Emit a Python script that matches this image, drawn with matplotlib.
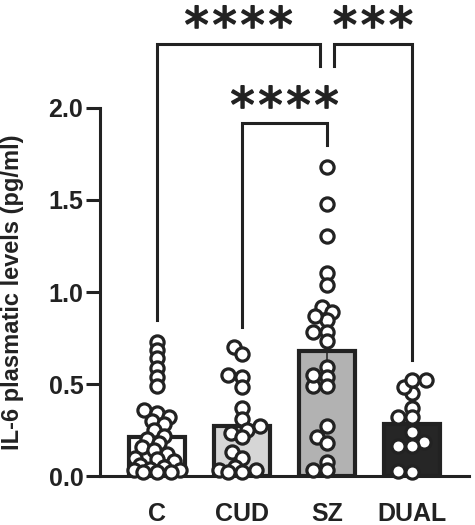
import numpy as np
import matplotlib
matplotlib.use("Agg")
import matplotlib.pyplot as plt
import matplotlib.patheffects as pe
from matplotlib.textpath import TextPath
from matplotlib.font_manager import FontProperties

groups = ["C", "CUD", "SZ", "DUAL"]
means = [0.21, 0.27, 0.68, 0.28]
sems = [0.04, 0.05, 0.09, 0.05]

c_vals = [0.73, 0.686, 0.643, 0.588, 0.539, 0.49, 0.36, 0.34, 0.32, 0.30, 0.28, 0.25,
          0.22, 0.20, 0.18, 0.16, 0.14, 0.12, 0.10, 0.09, 0.08, 0.06, 0.05, 0.04,
          0.03, 0.03, 0.02, 0.02, 0.02]
cud_vals = [0.70, 0.665, 0.55, 0.54, 0.485, 0.37, 0.31, 0.27, 0.25, 0.235, 0.21,
            0.13, 0.10, 0.05, 0.03, 0.03, 0.02, 0.02]
sz_vals = [1.68, 1.476, 1.307, 1.105, 1.04, 0.92, 0.89, 0.85, 0.87, 0.78, 0.78,
           0.735, 0.59, 0.54, 0.49, 0.49, 0.55, 0.27, 0.21, 0.18, 0.077, 0.03, 0.03]
dual_vals = [0.52, 0.45, 0.485, 0.52, 0.37, 0.32, 0.32, 0.24, 0.185, 0.163, 0.163,
             0.02, 0.027]
points = [c_vals, cud_vals, sz_vals, dual_vals]

# (group a, group b, label, bracket height, leg bottom a, leg bottom b, star centre)
comparisons = [
    (0, 2, "****", 2.35, 0.85, 2.23, 2.495),
    (2, 3, "***", 2.35, 2.23, 0.63, 2.495),
    (1, 2, "****", 1.92, 0.81, 1.80, 2.06),
]

bar_colors = ["#ffffff", "#d6d6d6", "#b2b2b2", "#262626"]
err_colors = ["#222222", "#222222", "#222222", "#8a8a8a"]
ink = "#222222"

plt.rcParams["font.family"] = ["Liberation Sans", "DejaVu Sans"]
plt.rcParams["font.weight"] = "bold"

fig = plt.figure(figsize=(4.75, 5.25), dpi=100)
ax = fig.add_axes([0.2105, 0.0933, 0.777, 0.701])
ax.set_xlim(-0.67, 3.67)
ax.set_ylim(0, 2.0)

x = np.arange(len(groups))
ax.bar(x, means, width=0.65, color=bar_colors, edgecolor=ink, linewidth=3, zorder=1)
for i in range(len(groups)):
    ax.errorbar(x[i], means[i], yerr=sems[i], color=err_colors[i], elinewidth=1.1,
                capsize=5, capthick=1.1, zorder=2)

# pixels per data unit, used to spread the points like a swarm
p0 = ax.transData.transform((0, 0))
p1 = ax.transData.transform((1, 1))
xpx, ypx = p1[0] - p0[0], p1[1] - p0[1]


def swarm(vals, lim_px=23, d_px=14.0, yfac=1.8):
    vals = np.asarray(vals)
    grid = np.linspace(-lim_px, lim_px, 93)
    grid = grid[np.argsort(np.abs(grid), kind="stable")]
    placed = []
    offs = np.zeros(len(vals))
    for i in np.argsort(vals):
        y = vals[i] * ypx
        best, bestd = 0.0, -1.0
        for gx in grid:
            if placed:
                pa = np.array(placed)
                md = np.min(np.hypot(gx - pa[:, 0], yfac * (y - pa[:, 1])))
            else:
                md = np.inf
            if md >= d_px:
                best = gx
                break
            if md > bestd:
                bestd, best = md, gx
        placed.append((best, y))
        offs[i] = best
    return offs / xpx


for i, vals in enumerate(points):
    xs = x[i] + swarm(vals)
    ax.plot(xs, vals, "o", ms=9.5, mfc="white", mec=ink, mew=2.3, ls="none",
            zorder=3, clip_on=False)

star_font = FontProperties(family="DejaVu Sans", weight="normal", size=35)
ext = TextPath((0, 0), "*", prop=star_font).get_extents()
star_mid = (ext.y0 + ext.y1) / 2 * fig.dpi / 72 / ypx
star_pitch = 28 / xpx

for a, b, label, top, ya, yb, sy in comparisons:
    xa = a + (0.08 if a == 2 else 0)
    xb = b - (0.08 if (b == 2 and a == 0) else 0)
    ax.plot([xa, xa, xb, xb], [ya, top, top, yb], color=ink, lw=2.2,
            clip_on=False, solid_joinstyle="miter")
    n = len(label)
    for k, ch in enumerate(label):
        sx = (xa + xb) / 2 + (k - (n - 1) / 2) * star_pitch
        ax.text(sx, sy - star_mid, ch, ha="center", va="baseline",
                fontproperties=star_font, color=ink, clip_on=False,
                path_effects=[pe.withStroke(linewidth=1.2, foreground=ink)])

ax.set_xticks(x)
ax.set_xticklabels(groups)
ax.set_yticks([0, 0.5, 1.0, 1.5, 2.0])
ax.set_yticklabels(["0.0", "0.5", "1.0", "1.5", "2.0"])
ax.tick_params(axis="x", length=0, pad=19, labelsize=18, colors=ink)
ax.tick_params(axis="y", length=10, width=2.2, pad=2, labelsize=18, colors=ink)
ax.set_ylabel("IL-6 plasmatic levels (pg/ml)", fontsize=17, fontweight="bold", color=ink)
ax.yaxis.set_label_coords(-0.205, 0.5)

for s in ["top", "right"]:
    ax.spines[s].set_visible(False)
for s in ["left", "bottom"]:
    ax.spines[s].set_linewidth(2.2)
    ax.spines[s].set_color(ink)

fig.savefig("out.png", dpi=100)
